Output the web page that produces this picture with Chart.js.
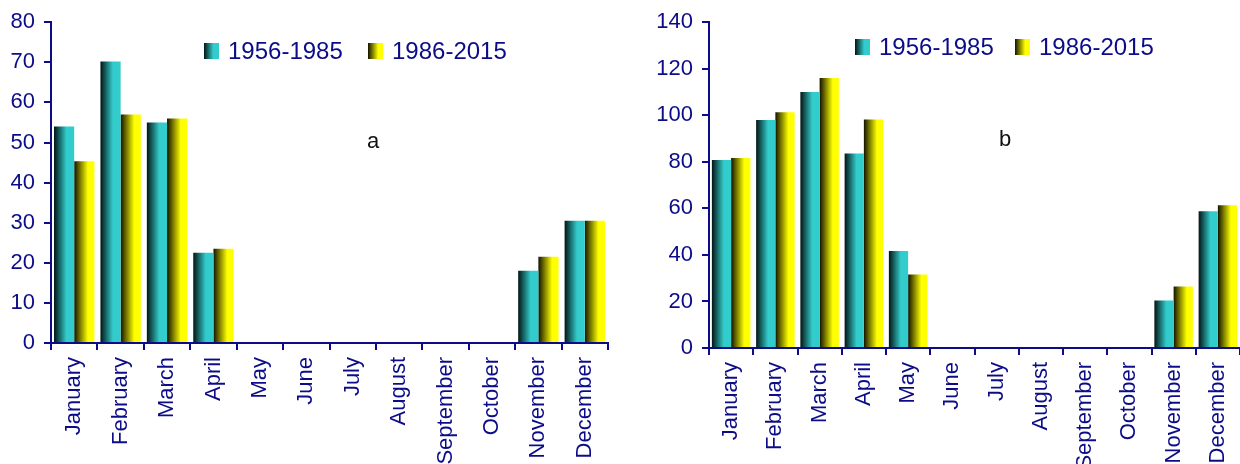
<!DOCTYPE html>
<html>
<head>
<meta charset="utf-8">
<script src="https://cdn.jsdelivr.net/npm/chart.js@4.4.1/dist/chart.umd.min.js"></script>
<style>
  html, body { margin: 0; padding: 0; background: #fff; }
  .box { position: absolute; top: 0; height: 464px; }
  #boxA { left: 0; width: 620px; }
  #boxB { left: 640px; width: 600px; }
</style>
</head>
<body>
<div class="box" id="boxA"><canvas id="chartA"></canvas></div>
<div class="box" id="boxB"><canvas id="chartB"></canvas></div>
<script>
// Dados
const months = ['January', 'February', 'March', 'April', 'May', 'June',
    'July', 'August', 'September', 'October', 'November', 'December'];
const seriesNames = ['1956-1985', '1986-2015'];

// painel a
const aOld = [54, 70.2, 55, 22.5, 0, 0, 0, 0, 0, 0, 18, 30.5];
const aNew = [45.3, 57, 56, 23.5, 0, 0, 0, 0, 0, 0, 21.5, 30.5];
const aTicks = [0, 10, 20, 30, 40, 50, 60, 70, 80];

// painel b
const bOld = [80.8, 98, 110, 83.6, 41.7, 0, 0, 0, 0, 0, 20.4, 58.8];
const bNew = [81.6, 101.3, 116, 98.2, 31.6, 0, 0, 0, 0, 0, 26.4, 61.3];
const bTicks = [0, 20, 40, 60, 80, 100, 120, 140];

const navy = '#0c0c88';
const fontFam = '"Liberation Sans", Arial, sans-serif';
const CAT_PCT = 0.87;

// cores do degrade (escuro -> claro)
const stops = [
    [[0, '#021414'], [0.62, '#33cccc'], [1, '#33cccc']],
    [[0, '#121200'], [0.68, '#ffff00'], [1, '#ffff00']]
];

function makeGrad(ctx, x0, x1, di) {
    const g = ctx.createLinearGradient(x0, 0, x1, 0);
    stops[di].forEach(s => g.addColorStop(s[0], s[1]));
    return g;
}

function barColor(context) {
    const chart = context.chart;
    const di = context.datasetIndex;
    const xs = chart.scales && chart.scales.x;
    const solid = stops[di][1][1];
    if (!xs || context.type !== 'data') return solid;
    const n = chart.data.labels.length;
    const catW = xs.width / n;
    const groupW = catW * CAT_PCT;
    const center = xs.getPixelForValue(context.dataIndex);
    const left = center - groupW / 2 + di * groupW / 2;
    if (!isFinite(left) || !isFinite(groupW) || groupW <= 0) return solid;
    return makeGrad(chart.ctx, left, left + groupW / 2, di);
}

// legenda e letra do painel
const panelDeco = {
    id: 'panelDeco',
    afterDraw(chart, args, opts) {
        const ctx = chart.ctx;
        ctx.save();
        ctx.font = '24px ' + fontFam;
        ctx.textBaseline = 'middle';
        ctx.textAlign = 'left';
        opts.legend.forEach((it, i) => {
            ctx.fillStyle = makeGrad(ctx, it.x, it.x + 15, i);
            ctx.fillRect(it.x, opts.legendY - 8, 15, 16);
            ctx.fillStyle = navy;
            ctx.fillText(chart.data.datasets[i].label, it.x + 24, opts.legendY + 1);
        });
        ctx.font = '22px ' + fontFam;
        ctx.fillStyle = '#111';
        ctx.textAlign = 'center';
        ctx.fillText(opts.letter, opts.letterX, opts.letterY);
        ctx.restore();
    }
};

function build(id, oldVals, newVals, ticks, axisW, axisH, padRight, deco) {
    const ctx = document.getElementById(id).getContext('2d');
    return new Chart(ctx, {
        type: 'bar',
        data: {
            labels: months,
            datasets: [
                { label: seriesNames[0], data: oldVals, backgroundColor: barColor, borderWidth: 0 },
                { label: seriesNames[1], data: newVals, backgroundColor: barColor, borderWidth: 0 }
            ]
        },
        options: {
            responsive: true,
            maintainAspectRatio: false,
            animation: false,
            devicePixelRatio: 1,
            categoryPercentage: CAT_PCT,
            barPercentage: 1,
            layout: { padding: { top: 20, right: padRight, bottom: 0, left: 0 } },
            plugins: {
                legend: { display: false },
                tooltip: { enabled: false },
                panelDeco: deco
            },
            scales: {
                x: {
                    grid: { display: true, drawOnChartArea: false, drawTicks: true, tickLength: 7, color: navy, lineWidth: 2, offset: true },
                    border: { display: true, color: navy, width: 2 },
                    ticks: {
                        color: navy, font: { family: fontFam, size: 22 },
                        minRotation: 90, maxRotation: 90, autoSkip: false, padding: 7
                    },
                    afterFit: s => { s.height = axisH; s.paddingLeft = 0; s.paddingRight = 0; }
                },
                y: {
                    min: ticks[0],
                    max: ticks[ticks.length - 1],
                    afterBuildTicks: s => { s.ticks = ticks.map(v => ({ value: v })); },
                    grid: { display: true, drawOnChartArea: false, drawTicks: true, tickLength: 7, color: navy, lineWidth: 2 },
                    border: { display: true, color: navy, width: 2 },
                    ticks: { color: navy, font: { family: fontFam, size: 22 }, padding: 9 },
                    afterFit: s => { s.width = axisW; }
                }
            }
        },
        plugins: [panelDeco]
    });
}

build('chartA', aOld, aNew, aTicks, 51, 121, 12, {
    legend: [{ x: 204 }, { x: 368 }], legendY: 51,
    letter: 'a', letterX: 373, letterY: 142
});
build('chartB', bOld, bNew, bTicks, 69, 116, 0, {
    legend: [{ x: 215 }, { x: 375 }], legendY: 47,
    letter: 'b', letterX: 365, letterY: 140
});
</script>
</body>
</html>
